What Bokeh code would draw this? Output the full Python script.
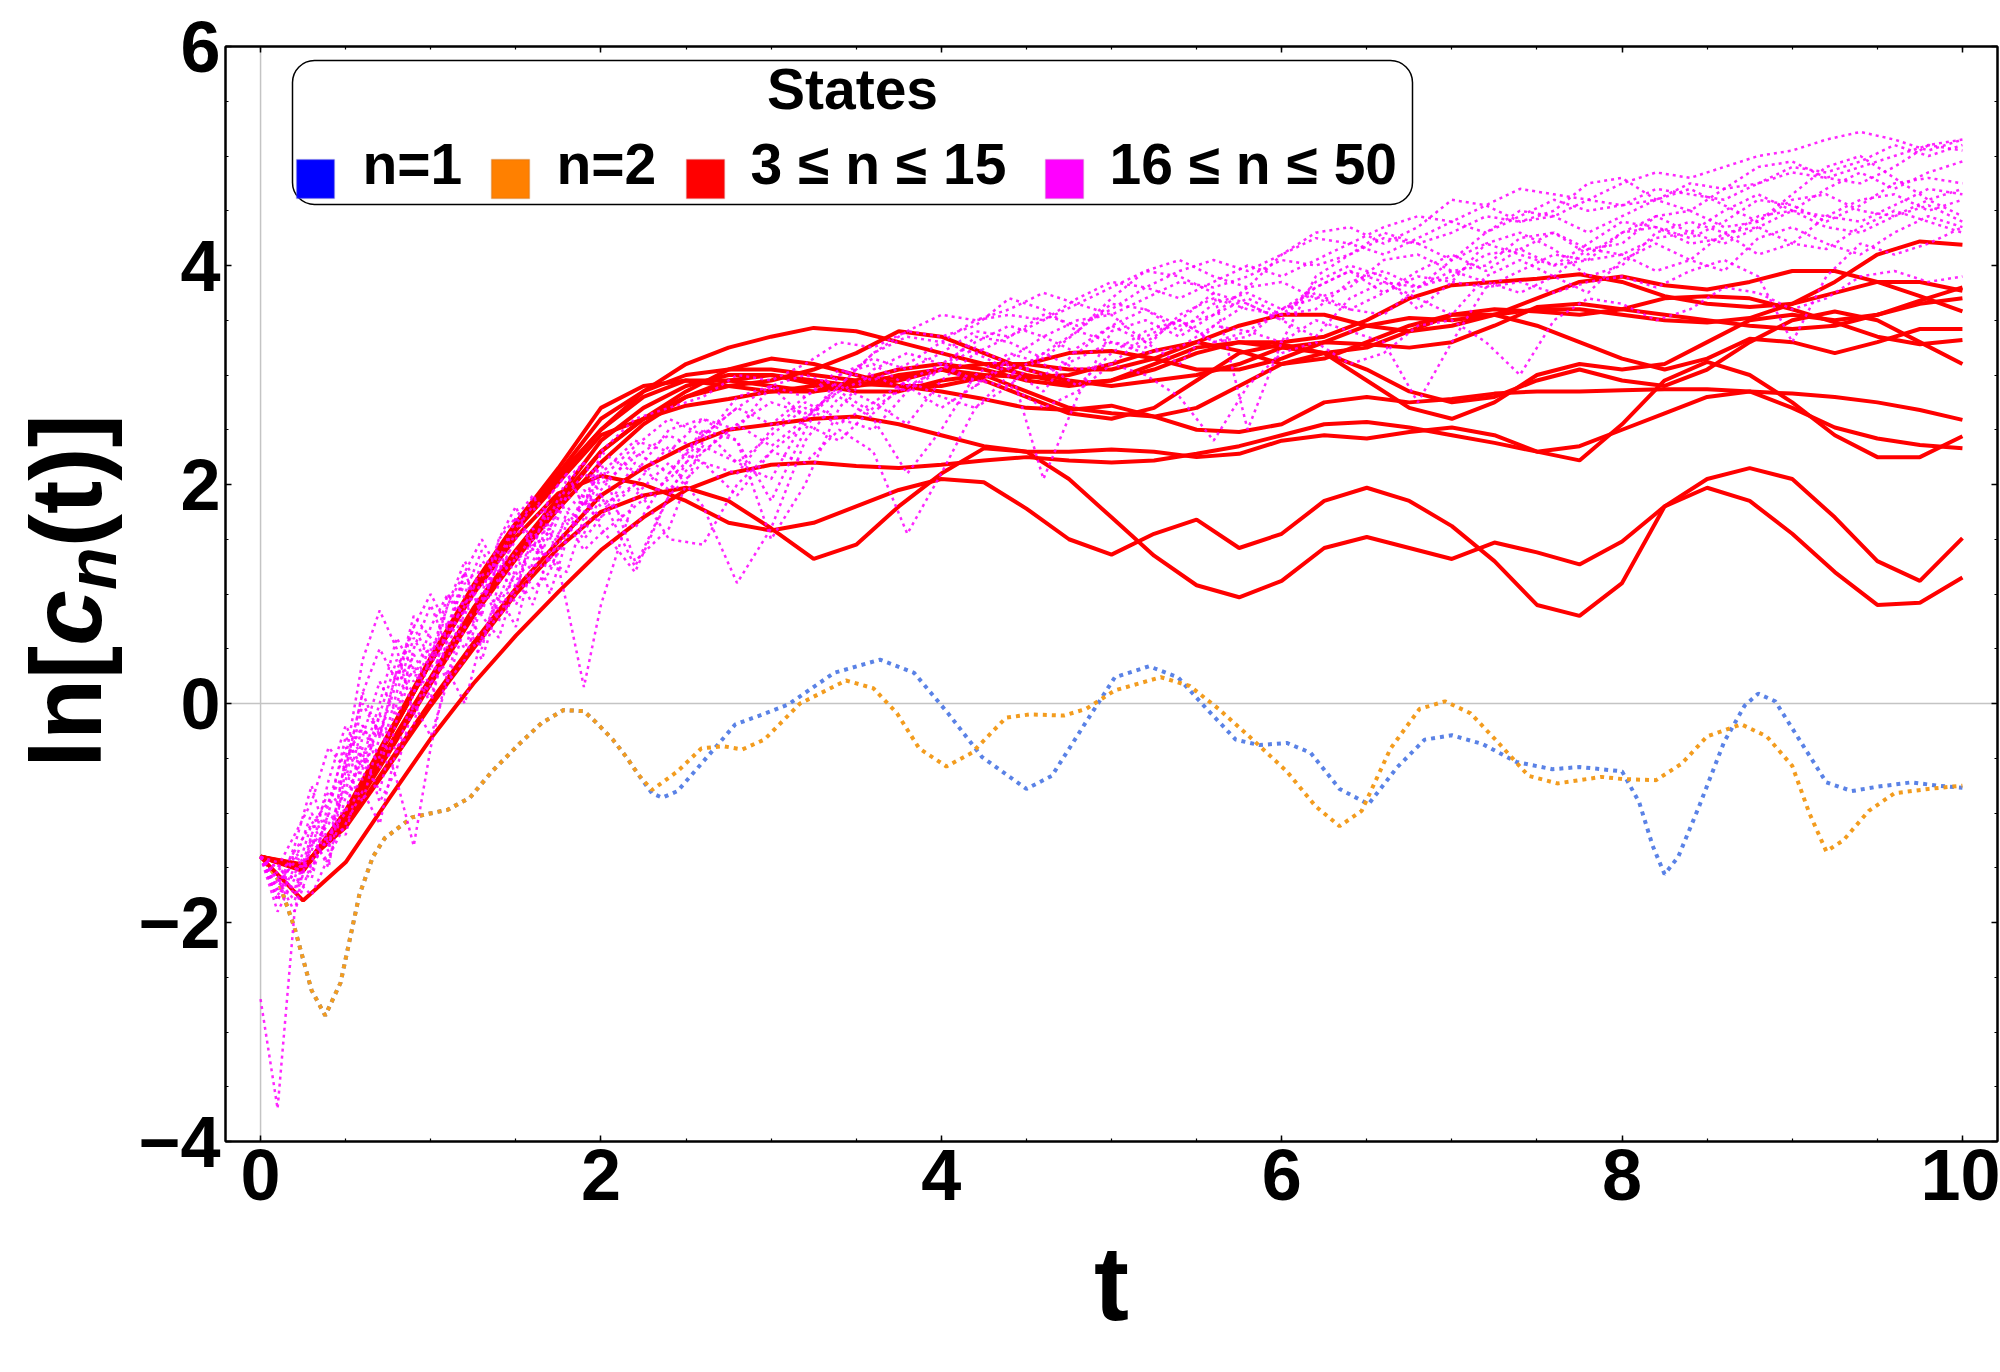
from bokeh.plotting import figure
from bokeh.layouts import row
from bokeh.models import (Span, Label, BoxAnnotation, LinearAxis, Div,
                          SingleIntervalTicker, CustomJSTickFormatter, Range1d)
from bokeh.embed import file_html
from bokeh.resources import INLINE

FONT = "Liberation Sans"

# ---------------- data ----------------
# n = 1 (blue, dotted)
t_n1 = [0, 0.1, 0.2, 0.3, 0.38, 0.47, 0.58, 0.66, 0.73, 0.89, 1.1, 1.23, 1.36, 1.52, 1.65, 1.78, 1.9,
        1.97, 2.07, 2.15, 2.22, 2.3, 2.36, 2.45, 2.59, 2.79, 2.95, 3.1, 3.37, 3.64, 3.84, 4.04, 4.24,
        4.5, 4.65, 4.85, 5.02, 5.22, 5.39, 5.56, 5.73, 5.87, 6.03, 6.17, 6.34, 6.51, 6.68, 6.84, 7.0,
        7.18, 7.38, 7.59, 7.75, 7.88, 8.0, 8.1, 8.18, 8.25, 8.33, 8.45, 8.6, 8.72, 8.8, 8.9, 9.05,
        9.2, 9.35, 9.5, 9.7, 9.85, 10.0]
v_n1 = [-1.39, -1.6, -2.05, -2.62, -2.85, -2.55, -1.75, -1.4, -1.23, -1.04, -0.97, -0.86, -0.62,
        -0.37, -0.18, -0.06, -0.07, -0.17, -0.33, -0.49, -0.65, -0.82, -0.86, -0.8, -0.55, -0.19,
        -0.1, -0.01, 0.28, 0.40, 0.28, -0.09, -0.49, -0.78, -0.66, -0.17, 0.24, 0.34, 0.24, -0.05,
        -0.33, -0.38, -0.36, -0.45, -0.78, -0.92, -0.58, -0.33, -0.29, -0.37, -0.535, -0.6, -0.58,
        -0.6, -0.62, -0.9, -1.3, -1.56, -1.4, -0.95, -0.35, -0.02, 0.09, 0.02, -0.35, -0.72, -0.8,
        -0.76, -0.72, -0.75, -0.77]

# n = 2 (orange, dotted)
t_n2 = [0, 0.1, 0.2, 0.3, 0.38, 0.47, 0.58, 0.66, 0.73, 0.89, 1.1, 1.23, 1.36, 1.52, 1.65, 1.78, 1.9,
        1.97, 2.07, 2.15, 2.22, 2.3, 2.45, 2.59, 2.72, 2.83, 2.96, 3.17, 3.44, 3.6, 3.74, 3.87, 4.03,
        4.18, 4.38, 4.52, 4.72, 4.85, 5.02, 5.29, 5.46, 5.63, 5.83, 6.03, 6.2, 6.34, 6.47, 6.64, 6.81,
        6.96, 7.11, 7.28, 7.45, 7.62, 7.88, 8.0, 8.2, 8.35, 8.5, 8.7, 8.85, 9.0, 9.1, 9.2, 9.3, 9.45,
        9.6, 9.8, 10.0]
v_n2 = [-1.39, -1.6, -2.05, -2.62, -2.85, -2.55, -1.75, -1.4, -1.23, -1.04, -0.97, -0.86, -0.62,
        -0.37, -0.18, -0.06, -0.07, -0.17, -0.33, -0.49, -0.65, -0.79, -0.62, -0.41, -0.39, -0.42,
        -0.33, 0.0, 0.21, 0.14, -0.09, -0.41, -0.575, -0.45, -0.13, -0.1, -0.11, -0.05, 0.12, 0.24,
        0.16, -0.05, -0.33, -0.62, -0.94, -1.12, -0.98, -0.41, -0.05, 0.02, -0.09, -0.37, -0.66,
        -0.73, -0.67, -0.69, -0.7, -0.55, -0.3, -0.19, -0.3, -0.57, -1.0, -1.35, -1.25, -0.98, -0.82,
        -0.78, -0.75]

# 3 <= n <= 15 (red, solid), sampled at t = 0, 0.25, ..., 10
t_red = [0, 0.25, 0.5, 0.75, 1.0, 1.25, 1.5, 1.75, 2.0, 2.25, 2.5, 2.75, 3.0, 3.25, 3.5, 3.75, 4.0,
         4.25, 4.5, 4.75, 5.0, 5.25, 5.5, 5.75, 6.0, 6.25, 6.5, 6.75, 7.0, 7.25, 7.5, 7.75, 8.0, 8.25,
         8.5, 8.75, 9.0, 9.25, 9.5, 9.75, 10.0]
red_a = [-1.4, -1.52, -1.0, -0.3, 0.4, 1.05, 1.62, 2.1, 2.6, 2.85, 3.0, 3.05, 3.05, 3.0, 2.95, 2.98,
         3.05, 3.1, 3.1, 3.05, 3.05, 3.15, 3.3, 3.45, 3.55, 3.55, 3.45, 3.4, 3.45, 3.55, 3.6, 3.6,
         3.55, 3.5, 3.48, 3.52, 3.65, 3.85, 4.1, 4.22, 4.19]
red_b = [-1.4, -1.53, -1.02, -0.32, 0.38, 1.02, 1.6, 2.08, 2.5, 2.85, 3.1, 3.25, 3.35, 3.43, 3.4,
         3.3, 3.2, 3.1, 3.0, 2.92, 2.95, 3.05, 3.2, 3.3, 3.3, 3.35, 3.5, 3.7, 3.82, 3.85, 3.88, 3.92,
         3.85, 3.72, 3.65, 3.62, 3.65, 3.75, 3.85, 3.85, 3.77]
red_c = [-1.4, -1.5, -1.05, -0.42, 0.22, 0.85, 1.38, 1.85, 2.3, 2.6, 2.8, 2.9, 2.95, 3.05, 3.2, 3.4,
         3.35, 3.2, 3.05, 2.95, 2.9, 2.95, 3.0, 3.1, 3.25, 3.3, 3.28, 3.25, 3.3, 3.45, 3.62, 3.65,
         3.6, 3.55, 3.5, 3.45, 3.42, 3.45, 3.55, 3.68, 3.8]
red_d = [-1.4, -1.5, -1.06, -0.44, 0.2, 0.82, 1.35, 1.82, 2.3, 2.6, 2.85, 3.05, 3.15, 3.1, 3.0, 2.9,
         2.9, 2.98, 3.1, 3.2, 3.22, 3.15, 3.05, 3.05, 3.15, 3.3, 3.45, 3.52, 3.5, 3.55, 3.7, 3.85,
         3.9, 3.82, 3.78, 3.85, 3.95, 3.95, 3.85, 3.72, 3.58]
red_e = [-1.4, -1.51, -0.98, -0.28, 0.42, 1.08, 1.65, 2.15, 2.7, 2.9, 2.95, 2.9, 2.85, 2.85, 2.95,
         3.05, 3.1, 3.05, 2.95, 2.9, 2.95, 3.1, 3.25, 3.3, 3.25, 3.2, 3.25, 3.4, 3.55, 3.55, 3.45,
         3.3, 3.15, 3.05, 3.15, 3.33, 3.3, 3.2, 3.3, 3.42, 3.42]
red_f = [-1.4, -1.5, -1.04, -0.4, 0.24, 0.87, 1.4, 1.88, 2.4, 2.7, 2.9, 3.0, 3.0, 2.92, 2.85, 2.85,
         2.95, 3.0, 2.98, 3.0, 3.1, 3.22, 3.3, 3.22, 3.1, 3.15, 3.3, 3.45, 3.55, 3.6, 3.58, 3.55, 3.6,
         3.7, 3.72, 3.7, 3.6, 3.48, 3.35, 3.28, 3.32]
red_g = [-1.4, -1.49, -1.08, -0.46, 0.18, 0.8, 1.32, 1.78, 2.2, 2.55, 2.8, 2.95, 3.0, 2.95, 2.9,
         2.95, 3.05, 3.0, 2.85, 2.7, 2.65, 2.62, 2.7, 2.9, 3.1, 3.2, 3.05, 2.85, 2.75, 2.8, 2.95, 3.05,
         2.95, 2.9, 3.05, 3.3, 3.5, 3.58, 3.5, 3.3, 3.1]
red_h = [-1.4, -1.52, -1.0, -0.32, 0.38, 1.02, 1.58, 2.02, 2.45, 2.6, 2.72, 2.78, 2.85, 2.9, 2.92,
         2.9, 2.85, 2.78, 2.7, 2.68, 2.72, 2.62, 2.5, 2.48, 2.55, 2.75, 2.8, 2.75, 2.78, 2.83, 2.85,
         2.85, 2.86, 2.87, 2.87, 2.85, 2.83, 2.8, 2.75, 2.68, 2.59]
red_i = [-1.4, -1.48, -1.12, -0.55, 0.02, 0.55, 1.05, 1.48, 1.9, 2.15, 2.35, 2.5, 2.55, 2.6, 2.62,
         2.55, 2.45, 2.35, 2.3, 2.3, 2.32, 2.3, 2.25, 2.28, 2.4, 2.45, 2.42, 2.48, 2.52, 2.45, 2.3,
         2.22, 2.55, 2.95, 3.12, 3.0, 2.75, 2.45, 2.25, 2.25, 2.44]
red_j = [-1.4, -1.8, -1.45, -0.88, -0.32, 0.18, 0.62, 1.02, 1.4, 1.7, 1.95, 2.1, 2.18, 2.2, 2.17,
         2.15, 2.18, 2.22, 2.25, 2.22, 2.2, 2.22, 2.28, 2.35, 2.45, 2.55, 2.57, 2.52, 2.45, 2.38, 2.3,
         2.35, 2.5, 2.65, 2.8, 2.85, 2.7, 2.52, 2.42, 2.36, 2.33]
red_k = [-1.4, -1.51, -1.0, -0.32, 0.38, 1.0, 1.52, 1.92, 2.08, 2.0, 1.85, 1.65, 1.58, 1.65, 1.8,
         1.95, 2.05, 2.02, 1.78, 1.5, 1.36, 1.55, 1.68, 1.42, 1.55, 1.85, 1.97, 1.85, 1.62, 1.3, 0.9,
         0.8, 1.1, 1.8, 1.97, 1.85, 1.55, 1.2, 0.9, 0.92, 1.15]
red_l = [-1.4, -1.47, -1.13, -0.58, -0.02, 0.5, 1.0, 1.42, 1.75, 1.9, 1.97, 1.85, 1.6, 1.32, 1.45,
         1.8, 2.1, 2.33, 2.3, 2.05, 1.7, 1.35, 1.08, 0.97, 1.12, 1.42, 1.52, 1.42, 1.32, 1.47, 1.38,
         1.27, 1.48, 1.8, 2.05, 2.15, 2.05, 1.7, 1.3, 1.12, 1.51]
red_m = [-1.4, -1.52, -1.01, -0.31, 0.39, 1.04, 1.6, 2.06, 2.5, 2.8, 2.95, 2.95, 2.9, 2.85, 2.9, 3.0,
         3.05, 2.95, 2.8, 2.65, 2.6, 2.7, 2.95, 3.2, 3.28, 3.2, 2.95, 2.7, 2.6, 2.75, 3.0, 3.1, 3.05,
         3.1, 3.3, 3.5, 3.55, 3.5, 3.55, 3.65, 3.7]

# 16 <= n <= 50 (magenta, dotted): t = 0..2 step 0.1, then 2.2..10 step 0.2
t_mag = [0, 0.1, 0.2, 0.3, 0.4, 0.5, 0.6, 0.7, 0.8, 0.9, 1.0, 1.1, 1.2, 1.3, 1.4, 1.5, 1.6, 1.7, 1.8,
         1.9, 2.0, 2.2, 2.4, 2.6, 2.8, 3.0, 3.2, 3.4, 3.6, 3.8, 4.0, 4.2, 4.4, 4.6, 4.8, 5.0, 5.2,
         5.4, 5.6, 5.8, 6.0, 6.2, 6.4, 6.6, 6.8, 7.0, 7.2, 7.4, 7.6, 7.8, 8.0, 8.2, 8.4, 8.6, 8.8,
         9.0, 9.2, 9.4, 9.6, 9.8, 10.0]
mag_a = [-2.7, -3.7, -1.9, -1.2, -1.5, -0.6, 0.1, -0.3, 0.3, 0.7, 0.4, 0.9, 1.2, 0.8, 1.5, 1.7, 1.4,
         1.9, 2.1, 1.8, 2.3,
         2.1, 2.5, 2.6, 2.5, 2.9, 3.0, 2.9, 3.2, 3.35, 3.3, 3.5, 3.55, 3.5, 3.7, 3.85, 3.8, 3.95,
         4.05, 3.95, 4.1, 4.25, 4.2, 4.35, 4.45, 4.4, 4.55, 4.7, 4.65, 4.6, 4.75, 4.85, 4.8, 4.9,
         5.0, 5.05, 5.15, 5.22, 5.15, 5.05, 5.15]
mag_b = [-1.4, -1.7, -1.3, -0.75, -1.3, -0.5, 0.4, 0.85, 0.5, -0.1, 0.2, 0.7, 1.1, 0.9, 1.3, 1.7,
         1.5, 1.6, 1.9, 1.75, 1.95,
         2.3, 2.1, 2.45, 2.7, 2.55, 2.8, 3.05, 2.95, 3.1, 3.3, 3.2, 3.35, 3.55, 3.45, 3.6, 3.8, 3.7,
         3.85, 4.0, 3.9, 4.05, 4.2, 4.1, 4.25, 4.4, 4.3, 4.45, 4.6, 4.5, 4.55, 4.7, 4.65, 4.6, 4.75,
         4.85, 4.8, 4.9, 5.0, 5.1, 5.05]
mag_c = [-1.4, -1.8, -1.5, -1.6, -1.0, -0.3, -0.6, -0.2, -0.7, -1.3, -0.4, 0.3, 0.0, 0.6, 1.0, 0.7,
         1.3, 1.6, 0.9, 0.15, 0.9,
         1.9, 2.2, 1.8, 1.1, 1.6, 2.4, 2.8, 2.6, 2.1, 2.5, 3.0, 3.2, 3.1, 2.9, 3.2, 3.4, 3.5, 3.3,
         3.4, 3.6, 3.7, 3.6, 3.75, 3.9, 3.85, 3.8, 3.95, 4.1, 4.05, 4.1, 4.25, 4.3, 4.2, 4.35, 4.5,
         4.45, 4.4, 4.55, 4.7, 4.65]
mag_d = [-1.4, -1.6, -1.8, -1.3, -1.1, -0.8, -0.2, -0.5, 0.1, 0.6, 0.3, 0.9, 1.3, 1.0, 1.5, 1.8,
         1.4, 1.9, 2.1, 1.8, 2.2,
         1.3, 1.6, 2.4, 2.8, 2.9, 2.6, 2.9, 3.2, 3.4, 3.35, 3.45, 3.7, 3.6, 3.4, 3.7, 3.95, 4.05,
         3.9, 3.8, 4.1, 4.3, 4.35, 4.2, 4.35, 4.6, 4.55, 4.4, 4.5, 4.75, 4.8, 4.6, 4.5, 4.7, 4.9,
         4.95, 4.8, 4.75, 4.9, 5.1, 5.15]
mag_e = [-1.4, -1.5, -1.6, -1.1, -0.9, -0.4, -0.7, -0.1, 0.4, 0.2, 0.7, 1.0, 0.8, 1.3, 1.2, 1.5,
         1.9, 1.7, 2.05, 2.2, 1.9,
         1.25, 1.9, 2.5, 2.4, 1.85, 2.5, 3.0, 3.1, 2.9, 3.05, 3.35, 3.3, 3.15, 3.4, 3.65, 3.6, 3.45,
         3.55, 3.8, 3.85, 3.7, 3.8, 4.05, 4.1, 3.95, 4.0, 4.25, 4.3, 4.15, 4.2, 4.45, 4.5, 4.35, 4.4,
         4.6, 4.65, 4.5, 4.45, 4.6, 4.7]
mag_f = [-1.4, -1.7, -1.4, -1.5, -1.2, -1.0, -0.4, -0.9, -0.6, 0.0, -0.3, 0.2, 0.7, 0.4, 0.9, 1.2,
         0.9, 1.4, 1.7, 1.5, 1.7,
         2.0, 1.5, 1.45, 2.0, 2.3, 2.2, 2.5, 2.3, 1.55, 2.1, 2.7, 2.9, 2.7, 2.85, 3.1, 3.0, 2.8, 2.4,
         2.9, 3.2, 3.3, 3.1, 3.2, 3.45, 3.5, 3.3, 3.0, 3.5, 3.7, 3.65, 3.5, 3.6, 3.8, 3.75, 3.6, 3.7,
         3.9, 3.95, 3.85, 3.9]
mag_g = [-1.4, -1.55, -1.7, -1.2, -0.8, -1.0, -0.3, 0.2, -0.1, 0.5, 0.9, 0.5, 1.0, 1.4, 1.1, 1.6,
         1.8, 1.5, 1.9, 2.1, 2.0,
         2.25, 2.45, 2.3, 2.55, 2.75, 2.65, 2.85, 3.0, 2.85, 3.05, 3.25, 3.1, 2.05, 2.8, 3.4, 3.5,
         3.35, 3.55, 3.7, 3.55, 3.6, 3.85, 3.95, 3.8, 3.9, 4.1, 4.15, 4.0, 4.05, 4.3, 4.35, 4.2, 4.25,
         4.45, 4.5, 4.35, 4.3, 4.45, 4.55, 4.4]
mag_h = [-1.4, -1.65, -1.45, -1.0, -1.3, -0.7, 0.0, -0.3, 0.2, 0.8, 0.6, 0.4, 0.9, 1.2, 0.8, 1.0,
         1.6, 1.3, 1.2, 1.7, 2.1,
         2.4, 2.3, 2.6, 2.4, 1.5, 2.0, 2.7, 3.05, 3.2, 3.1, 3.3, 3.45, 3.35, 3.5, 3.55, 3.3, 3.5,
         3.75, 3.65, 3.5, 3.85, 4.0, 3.9, 3.6, 3.85, 4.2, 4.3, 4.15, 3.9, 4.0, 4.3, 4.4, 4.3, 4.1,
         4.2, 4.45, 4.6, 4.65, 4.5, 4.6]
mag_i = [-1.4, -1.75, -1.55, -1.35, -0.7, -0.2, -0.5, 0.0, 0.6, 0.3, 0.0, 0.6, 1.2, 0.8, 0.6, 1.1,
         1.5, 1.0, 1.5, 1.9, 1.6,
         1.2, 1.9, 2.2, 1.9, 2.3, 2.55, 2.4, 2.7, 2.9, 2.7, 2.9, 3.1, 3.0, 3.15, 3.3, 3.2, 3.25,
         3.45, 3.4, 3.3, 3.5, 3.4, 3.3, 2.75, 3.3, 3.8, 3.85, 3.75, 3.85, 3.9, 3.8, 3.95, 4.05, 3.9,
         3.3, 3.9, 4.2, 4.1, 4.2, 4.35]
mag_j = [-1.4, -1.9, -1.6, -1.75, -1.4, -1.1, -0.8, -1.1, -0.4, -0.2, 0.5, 0.2, 0.4, 0.9, 1.3, 0.9,
         1.2, 1.75, 1.8, 1.6, 2.3,
         2.6, 2.7, 2.8, 3.0, 2.95, 3.1, 3.3, 3.25, 3.4, 3.55, 3.5, 3.6, 3.75, 3.65, 3.8, 3.95, 3.9,
         3.75, 2.5, 3.3, 3.9, 4.1, 4.3, 4.2, 4.05, 4.3, 4.5, 4.45, 4.3, 4.45, 4.6, 4.7, 4.55, 4.4,
         4.65, 4.9, 5.0, 4.8, 4.6, 4.45]
mag_k = [-1.4, -1.6, -1.35, -1.55, -0.9, -0.6, -0.9, -0.3, 0.3, 0.1, 0.4, 1.0, 0.7, 0.5, 1.1, 1.4,
         1.2, 1.55, 1.5, 1.95, 1.8,
         2.0, 2.35, 2.2, 2.1, 2.5, 2.75, 2.6, 2.5, 2.85, 3.1, 2.95, 2.9, 3.2, 3.4, 3.3, 3.25, 3.55,
         3.7, 3.6, 3.55, 3.8, 3.95, 3.85, 3.8, 4.05, 4.2, 4.1, 4.0, 4.2, 4.4, 4.35, 4.25, 4.4, 4.6,
         4.55, 4.4, 4.55, 4.75, 4.8, 4.75]
mag_l = [-1.4, -1.45, -1.75, -1.25, -1.45, -0.85, -0.5, -0.8, -0.15, 0.35, 0.05, 0.6, 0.95, 0.55,
         0.95, 1.35, 1.05, 1.2, 1.65, 1.4, 1.55,
         1.8, 2.05, 2.35, 2.2, 2.45, 2.7, 2.55, 2.75, 2.95, 2.8, 2.7, 3.0, 3.2, 3.05, 3.1, 3.35, 3.5,
         3.3, 3.35, 3.6, 3.75, 3.6, 3.55, 3.8, 3.95, 3.85, 3.75, 3.9, 4.15, 4.1, 3.95, 4.05, 4.3,
         4.35, 4.2, 4.15, 4.35, 4.5, 4.4, 4.3]
mag_m = [-1.4, -1.5, -1.2, -0.9, -0.4, -0.6, 0.1, 0.5, 0.2, 0.7, 1.0, 0.7, 1.2, 1.5, 1.2, 1.7, 1.9,
         1.6, 2.0, 2.2, 2.05,
         2.35, 2.6, 2.45, 2.7, 2.9, 2.8, 3.0, 3.15, 3.05, 3.2, 3.4, 3.35, 3.5, 3.65, 3.55, 3.7, 3.85,
         3.8, 3.9, 4.05, 4.0, 4.1, 4.25, 4.2, 4.3, 4.45, 4.4, 4.45, 4.6, 4.55, 4.6, 4.75, 4.7, 4.75,
         4.9, 4.85, 4.95, 5.1, 5.0, 5.1]
mag_n = [-1.4, -1.8, -1.35, -1.1, -1.35, -0.5, -0.2, -0.6, 0.0, 0.45, 0.15, 0.75, 0.5, 0.95, 1.4,
         1.05, 1.45, 1.3, 1.75, 1.55, 1.9,
         1.6, 2.1, 2.5, 2.2, 2.05, 2.6, 2.9, 2.75, 2.55, 2.95, 3.2, 3.05, 2.85, 3.25, 3.45, 3.3, 3.1,
         3.45, 3.65, 3.5, 3.35, 3.7, 3.85, 3.7, 3.55, 3.9, 4.05, 3.9, 3.75, 4.05, 4.2, 4.05, 3.95,
         4.25, 4.35, 4.2, 4.1, 4.3, 4.45, 4.35]
mag_o = [-1.4, -1.6, -1.9, -1.45, -1.0, -1.2, -0.55, -0.1, -0.45, 0.1, 0.55, 0.25, 0.85, 1.1, 0.75,
         1.25, 1.6, 1.25, 1.5, 1.85, 1.7,
         2.2, 1.95, 2.3, 2.55, 2.35, 2.6, 2.85, 2.65, 2.95, 3.1, 2.9, 3.15, 3.35, 3.2, 3.45, 3.6, 3.4,
         3.65, 3.75, 3.6, 3.8, 3.95, 3.75, 3.95, 4.1, 3.95, 4.15, 4.3, 4.1, 4.3, 4.45, 4.3, 4.5,
         4.65, 4.5, 4.7, 4.85, 4.7, 4.85, 4.95]

red_series = [red_a, red_b, red_c, red_d, red_e, red_f, red_g, red_h, red_i, red_j, red_k, red_l, red_m]
mag_series = [mag_a, mag_b, mag_c, mag_d, mag_e, mag_f, mag_g, mag_h, mag_i, mag_j, mag_k, mag_l,
              mag_m, mag_n, mag_o]

x_ticks_step = 2
y_ticks_step = 2
legend_labels = ["n=1", "n=2", "3 \u2264 n \u2264 15", "16 \u2264 n \u2264 50"]
legend_fill = ["#0000ff", "#ff8000", "#ff0000", "#ff00ff"]
legend_edge = ["#8888cc", "#b86010", "#cc4444", "#bb55bb"]
legend_title = "States"
x_title = "t"

# ---------------- layout sizes ----------------
TOTAL_W, TOTAL_H = 2000, 1372
TITLE_W = 135          # column holding the vertical y-axis title
FIG_W = TOTAL_W - TITLE_W

# ---------------- figure ----------------
p = figure(width=FIG_W, height=TOTAL_H, x_range=Range1d(-0.206, 10.206), y_range=Range1d(-4, 6),
           output_backend="svg", toolbar_location=None,
           min_border_left=79, min_border_right=3, min_border_top=46, min_border_bottom=231)
p.xgrid.visible = False
p.ygrid.visible = False
p.outline_line_color = "black"
p.outline_line_width = 2
p.background_fill_color = "white"
p.border_fill_color = "white"

xt = SingleIntervalTicker(interval=x_ticks_step, num_minor_ticks=4)
yt = SingleIntervalTicker(interval=y_ticks_step, num_minor_ticks=4)
p.xaxis.ticker = xt
p.yaxis.ticker = yt


def style_axis(ax):
    ax.axis_line_width = 2
    ax.axis_line_color = "black"
    ax.major_tick_in = 6
    ax.major_tick_out = 0
    ax.minor_tick_in = 3
    ax.minor_tick_out = 0
    ax.major_tick_line_width = 1.5
    ax.minor_tick_line_width = 1.2
    ax.major_tick_line_color = "black"
    ax.minor_tick_line_color = "black"
    ax.major_label_text_font = FONT
    ax.major_label_text_font_style = "bold"
    ax.major_label_text_font_size = "72px"
    ax.major_label_text_color = "black"


style_axis(p.xaxis[0])
style_axis(p.yaxis[0])
p.xaxis[0].major_label_standoff = 8
p.yaxis[0].major_label_standoff = 5
p.xaxis[0].axis_label = x_title
p.xaxis[0].axis_label_text_font = FONT
p.xaxis[0].axis_label_text_font_style = "bold"
p.xaxis[0].axis_label_text_font_size = "105px"
p.xaxis[0].axis_label_text_color = "black"
p.xaxis[0].axis_label_standoff = 22

blank = CustomJSTickFormatter(code="return ''")
for loc, tk in (("above", xt), ("right", yt)):
    ax = LinearAxis(ticker=tk, formatter=blank)
    style_axis(ax)
    ax.major_label_text_font_size = "1px"
    ax.major_label_standoff = 0
    p.add_layout(ax, loc)

p.add_layout(Span(location=0, dimension="height", line_color="#c4c4c4", line_width=1.5, level="underlay"))
p.add_layout(Span(location=0, dimension="width", line_color="#c4c4c4", line_width=1.5, level="underlay"))

# ---------------- data lines ----------------
p.line(t_n1, v_n1, line_color="#5a82e6", line_width=4, line_dash="4 5")
p.line(t_n2, v_n2, line_color="#f39c1e", line_width=4, line_dash="4 5")
for s in red_series:
    p.line(t_red, s, line_color="#ff0000", line_width=4)
for s in mag_series:
    p.line(t_mag, s, line_color="#ff00ff", line_width=2.5, line_dash="3 4", line_alpha=0.85)

# ---------------- legend (rounded box, title, swatches and labels; frame-relative pixels) ----------------
box = BoxAnnotation(left=67, right=1187, top=1081, bottom=937,
                    left_units="screen", right_units="screen", top_units="screen", bottom_units="screen",
                    fill_color="white", fill_alpha=1.0, line_color="black", line_width=1.5, line_alpha=1.0)
if "border_radius" in BoxAnnotation.properties():
    box.border_radius = 22
p.add_layout(box)

p.add_layout(Label(x=627, y=1021, x_units="screen", y_units="screen", text=legend_title,
                   text_font=FONT, text_font_style="bold", text_font_size="57px",
                   text_align="center", text_color="black"))

swatch_left = [71, 266, 461, 820]
label_left = [137, 331, 525, 884]
for sl, ll, lab, fc, ec in zip(swatch_left, label_left, legend_labels, legend_fill, legend_edge):
    p.add_layout(BoxAnnotation(left=sl, right=sl + 38, top=982, bottom=943,
                               left_units="screen", right_units="screen",
                               top_units="screen", bottom_units="screen",
                               fill_color=fc, fill_alpha=1.0, line_color=ec, line_width=1.5))
    p.add_layout(Label(x=ll, y=946, x_units="screen", y_units="screen", text=lab,
                       text_font=FONT, text_font_style="bold", text_font_size="57px",
                       text_align="left", text_color="black"))

# ---------------- vertical y-axis title (HTML column left of the plot) ----------------
y_title_html = (
    '<div style="position:relative;width:%dpx;height:%dpx;">'
    '<div style="position:absolute;left:66px;top:591px;transform:translate(-50%%,-50%%) rotate(-90deg);'
    "white-space:nowrap;font-family:'Liberation Sans',Arial,sans-serif;font-weight:bold;"
    'font-size:100px;line-height:1;color:#000;">'
    'ln[<i>c</i><sub style="font-size:70%%;vertical-align:-0.22em;line-height:0;"><i>n</i></sub>(t)]'
    '</div></div>' % (TITLE_W, TOTAL_H)
)
ytitle = Div(text=y_title_html, width=TITLE_W, height=TOTAL_H, margin=(0, 0, 0, 0))

layout = row(ytitle, p, spacing=0)

open("out.html", "w").write(file_html(layout, INLINE))
